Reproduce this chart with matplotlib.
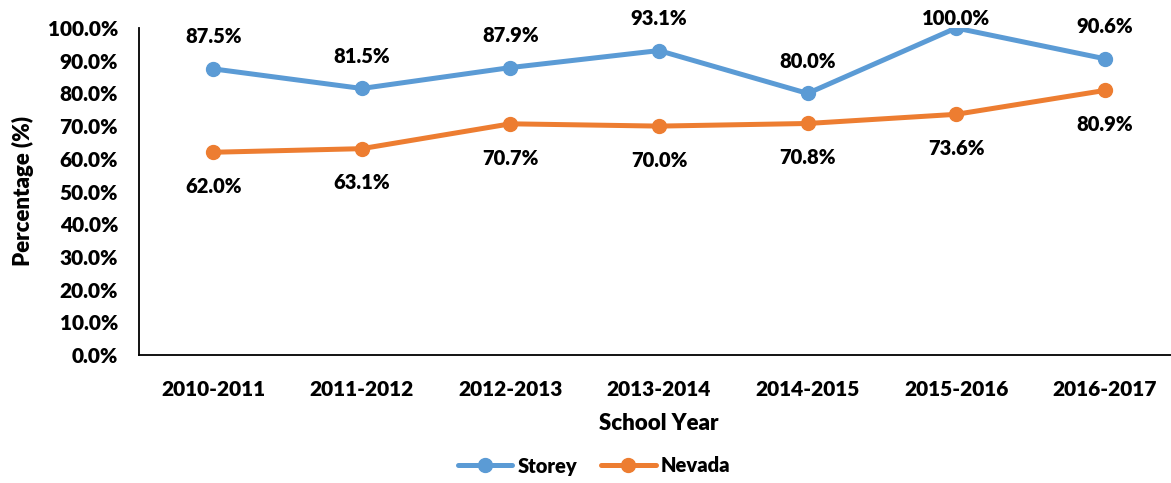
import matplotlib
matplotlib.use("Agg")
import matplotlib.pyplot as plt
from matplotlib.ticker import PercentFormatter

years = ["2010-2011", "2011-2012", "2012-2013", "2013-2014",
         "2014-2015", "2015-2016", "2016-2017"]
storey = [87.5, 81.5, 87.9, 93.1, 80.0, 100.0, 90.6]
nevada = [62.0, 63.1, 70.7, 70.0, 70.8, 73.6, 80.9]
yticks = [0, 10, 20, 30, 40, 50, 60, 70, 80, 90, 100]

BLUE = "#5B9BD5"
ORANGE = "#ED7D31"
WEIGHT = 800

plt.rcParams["font.family"] = ["Lato", "DejaVu Sans"]
plt.rcParams["font.weight"] = WEIGHT

fig = plt.figure(figsize=(11.71, 4.83), dpi=100)
ax = fig.add_axes([139 / 1171, 128 / 483, 1040 / 1171, 327 / 483])

x = list(range(len(years)))
ax.plot(x, storey, color=BLUE, lw=3.6, marker="o", ms=10, label="Storey",
        solid_capstyle="round")
ax.plot(x, nevada, color=ORANGE, lw=3.6, marker="o", ms=10, label="Nevada",
        solid_capstyle="round")

for xi, v in zip(x, storey):
    ax.text(xi, min(v + 9.8, 103.0), f"{v:.1f}%", ha="center", va="center",
            fontsize=14.5, fontweight=WEIGHT, clip_on=False)
for xi, v in zip(x, nevada):
    ax.text(xi, v - 10.5, f"{v:.1f}%", ha="center", va="center",
            fontsize=14.5, fontweight=WEIGHT, clip_on=False)

ax.set_xlim(-0.5, len(years) - 0.5)
ax.set_ylim(0, 100)
ax.set_yticks(yticks)
ax.yaxis.set_major_formatter(PercentFormatter(decimals=1))
ax.set_xticks(x)
ax.set_xticklabels(years)
ax.tick_params(axis="both", length=0, labelsize=15)
ax.tick_params(axis="y", pad=15)
ax.tick_params(axis="x", pad=18)
for lab in ax.get_xticklabels() + ax.get_yticklabels():
    lab.set_fontweight(WEIGHT)

for side in ("top", "right"):
    ax.spines[side].set_visible(False)
for side in ("left", "bottom"):
    ax.spines[side].set_color("black")
    ax.spines[side].set_linewidth(1.3)

ax.set_xlabel("School Year", fontsize=16, fontweight=WEIGHT, labelpad=10)
ax.set_ylabel("Percentage (%)", fontsize=16, fontweight=WEIGHT)
ax.yaxis.set_label_coords(-0.101, 0.5)

fig.legend(loc="center", bbox_to_anchor=(594 / 1171, 1 - 466 / 483),
           ncol=2, frameon=False, fontsize=14.5, handlelength=2.7,
           columnspacing=1.2, handletextpad=0.25)

fig.savefig("out.png", dpi=100)
